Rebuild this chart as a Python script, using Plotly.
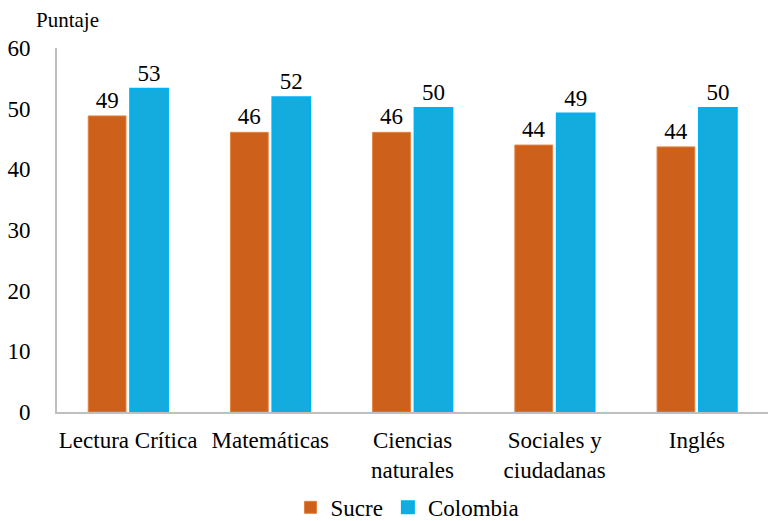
import plotly.graph_objects as go

categories = ["Lectura Crítica", "Matemáticas", "Ciencias<br>naturales", "Sociales y<br>ciudadanas", "Inglés"]
sucre = [48.8, 46.1, 46.1, 44.0, 43.7]
colombia = [53.3, 51.9, 50.1, 49.2, 50.1]
y_ticks = [0, 10, 20, 30, 40, 50, 60]

font = "Liberation Serif"
fs = 23

fig = go.Figure()
fig.add_trace(go.Bar(
    name="Sucre", x=categories, y=sucre,
    marker=dict(color="#CD601A", line=dict(color="#E3823F", width=1)),
    text=[f"{v:.0f}" for v in sucre], textposition="outside",
    textfont=dict(size=fs, color="#000000", family=font), cliponaxis=False,
))
fig.add_trace(go.Bar(
    name="Colombia", x=categories, y=colombia,
    marker=dict(color="#14ACDE", line=dict(color="#00B0F0", width=2)),
    text=[f"{v:.0f}" for v in colombia], textposition="outside",
    textfont=dict(size=fs, color="#000000", family=font), cliponaxis=False,
))

fig.update_layout(
    width=784, height=521,
    margin=dict(l=57, r=16, t=48, b=109, autoexpand=False),
    paper_bgcolor="white", plot_bgcolor="white",
    barmode="group", bargap=0.41, bargroupgap=0.1,
    font=dict(family=font, size=fs, color="#000000"),
    showlegend=True,
    legend=dict(orientation="h", x=0.493, xanchor="center", y=-0.262, yanchor="middle",
                font=dict(size=fs, family=font), itemwidth=30, traceorder="normal"),
    xaxis=dict(showline=True, linecolor="#BFBFBF", linewidth=2, ticks="",
               tickfont=dict(size=fs, family=font), showgrid=False, automargin=False,
               ticklabelstandoff=6),
    yaxis=dict(range=[0, 60], tickvals=y_ticks, showline=True, linecolor="#BFBFBF",
               linewidth=2, showgrid=False, ticks="", ticklen=0, automargin=False,
               tickfont=dict(size=fs, family=font), zeroline=False, ticklabelstandoff=20),
    annotations=[dict(text="Puntaje", xref="paper", yref="paper", x=-0.033, y=1.077,
                      xanchor="left", yanchor="middle", showarrow=False,
                      font=dict(size=21, family=font))],
)

fig.write_html("out.html", config={"displayModeBar": False},
               post_script="document.body.style.margin='0';")
